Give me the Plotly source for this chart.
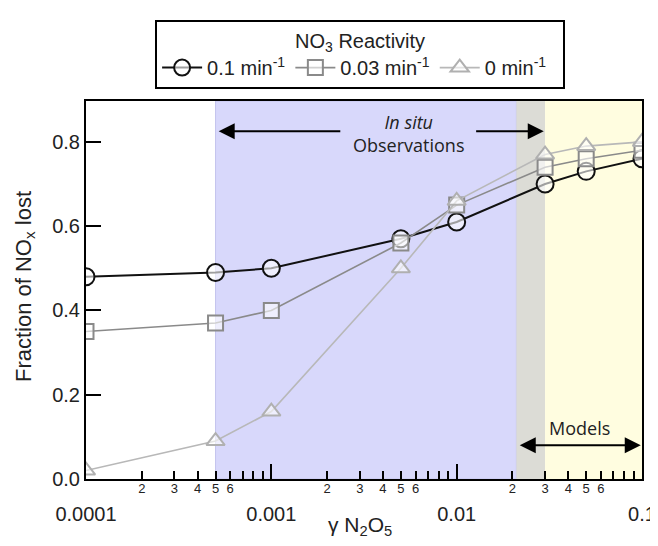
import numpy as np
import plotly.graph_objects as go

# ---- data ----
gamma = [1e-4, 5e-4, 1e-3, 5e-3, 1e-2, 3e-2, 5e-2, 1e-1]
frac_01 = [0.48, 0.49, 0.50, 0.57, 0.61, 0.70, 0.73, 0.76]
frac_003 = [0.35, 0.37, 0.40, 0.56, 0.65, 0.74, 0.76, 0.78]
frac_0 = [0.02, 0.09, 0.16, 0.50, 0.66, 0.77, 0.79, 0.80]
series_names = ["0.1 min<sup>-1</sup>", "0.03 min<sup>-1</sup>", "0 min<sup>-1</sup>\u00a0\u00a0"]

major_ticks = [1e-4, 1e-3, 1e-2, 1e-1]
major_labels = ["0.0001", "0.001", "0.01", "0.1"]
minor_ticks = [m * d for d in [1e-4, 1e-3, 1e-2] for m in range(2, 10)]
minor_labels = [str(m) if m <= 6 else "" for d in [1e-4, 1e-3, 1e-2] for m in range(2, 10)]
y_ticks = [0.0, 0.2, 0.4, 0.6, 0.8]
y_labels = ["0.0", "0.2", "0.4", "0.6", "0.8"]

obs_range = [5e-4, 0.021]
overlap_range = [0.021, 0.03]
model_range = [0.03, 0.1]

FONT = "Liberation Sans, Arial, sans-serif"
ANN_FONT = "Open Sans, sans-serif"

fig = go.Figure()

styles = [
    dict(color="#111111", width=2, symbol="circle", size=17, mcolor="#111111"),
    dict(color="#8a8a8a", width=1.6, symbol="square", size=15, mcolor="#8a8a8a"),
    dict(color="#b8b8b8", width=1.6, symbol="triangle-up", size=16, mcolor="#b0b0b0"),
]
for name, ys, st in zip(series_names, [frac_01, frac_003, frac_0], styles):
    fig.add_trace(go.Scatter(
        x=gamma, y=ys, name=name, mode="lines+markers",
        line=dict(color=st["color"], width=st["width"]),
        marker=dict(symbol=st["symbol"], size=st["size"], color="rgba(255,255,255,0.6)",
                    line=dict(color=st["mcolor"], width=2)),
    ))

# invisible trace to activate minor-label axis
fig.add_trace(go.Scatter(x=gamma, y=frac_01, xaxis="x2", mode="lines",
                         line=dict(width=0), showlegend=False, hoverinfo="skip", opacity=0))

# shaded regions
fig.add_shape(type="rect", xref="x", yref="paper", x0=obs_range[0], x1=obs_range[1], y0=0, y1=1,
              fillcolor="#d8d8fb", line=dict(color="#c4c4ee", width=1), layer="below")
fig.add_shape(type="rect", xref="x", yref="paper", x0=overlap_range[0], x1=overlap_range[1], y0=0, y1=1,
              fillcolor="#dcdcd6", line=dict(width=0), layer="below")
fig.add_shape(type="rect", xref="x", yref="paper", x0=model_range[0], x1=model_range[1], y0=0, y1=1,
              fillcolor="#fffde0", line=dict(width=0), layer="below")

# arrows
lg = np.log10
arrow_y = 0.825
fig.add_annotation(x=lg(5.2e-4), y=arrow_y, ax=lg(2.4e-3), ay=arrow_y, xref="x", yref="y",
                   axref="x", ayref="y", text="", showarrow=True, arrowhead=2, arrowsize=1.6,
                   arrowwidth=2, arrowcolor="black")
fig.add_annotation(x=lg(0.0295), y=arrow_y, ax=lg(1.25e-2), ay=arrow_y, xref="x", yref="y",
                   axref="x", ayref="y", text="", showarrow=True, arrowhead=2, arrowsize=1.6,
                   arrowwidth=2, arrowcolor="black")
fig.add_annotation(x=lg(5.5e-3), y=0.82, xref="x", yref="y", showarrow=False,
                   text="<i>In situ</i><br>Observations",
                   font=dict(family=ANN_FONT, size=18, color="#222"))
fig.add_annotation(x=lg(0.0985), y=0.08, ax=lg(0.0215), ay=0.08, xref="x", yref="y",
                   axref="x", ayref="y", text="", showarrow=True, arrowhead=2, arrowsize=1.6,
                   arrowside="end+start", arrowwidth=2, arrowcolor="black")
fig.add_annotation(x=lg(0.046), y=0.12, xref="x", yref="y", showarrow=False,
                   text="Models", font=dict(family=ANN_FONT, size=18, color="#222"))

# axis titles
fig.add_annotation(x=0.493, y=-0.125, xref="paper", yref="paper", showarrow=False,
                   text="γ N<sub>2</sub>O<sub>5</sub>", font=dict(size=21), yanchor="middle")
fig.add_annotation(x=-0.11, y=0.51, xref="paper", yref="paper", showarrow=False,
                   text="Fraction of NO<sub>x</sub> lost", font=dict(size=22), textangle=-90,
                   xanchor="center")

# page body has an 8px default margin, so the figure is sized/offset to compensate
fig.update_layout(
    width=650, height=538,
    margin=dict(l=78, r=16, t=84, b=66.5),
    paper_bgcolor="white", plot_bgcolor="white",
    font=dict(family=FONT, size=20, color="#222"),
    xaxis=dict(type="log", range=[-4, -1], tickvals=major_ticks, ticktext=major_labels,
               ticks="inside", ticklen=15, tickwidth=2, tickcolor="black",
               showline=True, linecolor="black", linewidth=2, mirror=True,
               showgrid=False, zeroline=False, ticklabelstandoff=16, automargin=False,
               tickfont=dict(size=20)),
    xaxis2=dict(type="log", range=[-4, -1], overlaying="x", anchor="y", side="bottom",
                tickvals=minor_ticks, ticktext=minor_labels, ticks="inside", ticklen=8,
                tickwidth=2, tickcolor="black", showline=False, showgrid=False, automargin=False,
                zeroline=False, tickfont=dict(size=13), ticklabelstandoff=0),
    yaxis=dict(range=[0, 0.897], tickvals=y_ticks, ticktext=y_labels,
               ticks="inside", ticklen=15, tickwidth=2, tickcolor="black",
               showline=True, linecolor="black", linewidth=2, mirror=True, automargin=False,
               showgrid=False, zeroline=False, tickfont=dict(size=20)),
    legend=dict(
        title=dict(text="NO<sub>3</sub> Reactivity", side="top center", font=dict(size=20)),
        orientation="h", x=0.493, xanchor="center", y=1.214, yanchor="top",
        bordercolor="black", borderwidth=2, bgcolor="white",
        font=dict(size=20), itemwidth=40, tracegroupgap=0,
    ),
    showlegend=True,
)

fig.write_html("out.html")
